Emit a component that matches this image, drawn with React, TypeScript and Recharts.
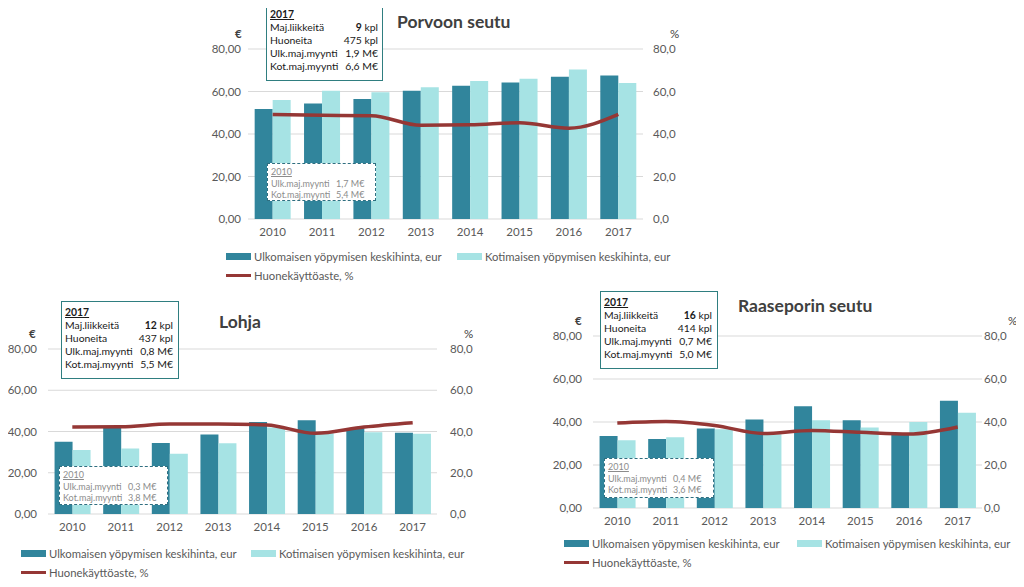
import { Bar, CartesianGrid, ComposedChart, Line, XAxis, YAxis } from 'recharts';

const years = ['2010', '2011', '2012', '2013', '2014', '2015', '2016', '2017'];

const porvooForeign = [51.8, 54.3, 56.5, 60.4, 62.7, 64.2, 67.0, 67.5];
const porvooDomestic = [56.0, 60.4, 59.6, 62.0, 64.9, 66.0, 70.4, 64.0];
const porvooOccupancy = [49.2, 48.8, 48.6, 44.1, 44.3, 45.3, 42.7, 49.2];

const lohjaForeign = [35.0, 42.0, 34.4, 38.6, 44.6, 45.4, 41.6, 39.4];
const lohjaDomestic = [31.0, 31.7, 29.2, 34.3, 42.0, 39.1, 39.6, 38.9];
const lohjaOccupancy = [42.2, 42.3, 43.6, 43.6, 43.2, 39.1, 42.2, 44.3];

const raaseporiForeign = [33.5, 32.1, 37.0, 41.2, 47.3, 40.8, 34.0, 49.9];
const raaseporiDomestic = [31.5, 32.9, 36.6, 34.3, 40.8, 37.4, 40.0, 44.3];
const raaseporiOccupancy = [39.5, 40.2, 38.4, 34.7, 36.1, 35.2, 34.4, 37.7];

const yTicks = [0, 20, 40, 60, 80];

const statLabels2017 = ['Maj.liikkeitä', 'Huoneita', 'Ulk.maj.myynti', 'Kot.maj.myynti'];
const statUnits2017 = ['kpl', 'kpl', 'M€', 'M€'];
const statLabels2010 = ['Ulk.maj.myynti', 'Kot.maj.myynti'];

const porvooStats2017 = ['9', '475', '1,9', '6,6'];
const porvooStats2010 = ['1,7', '5,4'];
const lohjaStats2017 = ['12', '437', '0,8', '5,5'];
const lohjaStats2010 = ['0,3', '3,8'];
const raaseporiStats2017 = ['16', '414', '0,7', '5,0'];
const raaseporiStats2010 = ['0,4', '3,6'];

const seriesNames = [
  'Ulkomaisen yöpymisen keskihinta, eur',
  'Kotimaisen yöpymisen keskihinta, eur',
  'Huonekäyttöaste, %',
];

const DARK = '#31859c';
const LIGHT = '#a6e3e4';
const LINE = '#953735';
const TEXT = '#595959';
const FONT = 'Lato, "Open Sans", sans-serif';

function buildRows(foreign: number[], domestic: number[], occupancy: number[]) {
  return years.map((year, i) => ({
    year,
    foreign: foreign[i],
    domestic: domestic[i],
    occupancy: occupancy[i],
  }));
}

type Rect = { x: number; y: number; w: number; h: number };

type PanelProps = {
  title: string;
  rows: ReturnType<typeof buildRows>;
  stats2017: string[];
  stats2010: string[];
  plotX: number;
  plotY: number;
  plotW: number;
  plotH: number;
  leftW: number;
  rightW: number;
  leftGap: number;
  rightGap: number;
  euroX: number;
  pctX: number;
  titleX: number;
  titleY: number;
  box17: Rect;
  box10: Rect;
  legendDy: number;
  legendX: number;
  legend2X: number;
};

function LegendItem({ color, label, line }: { color: string; label: string; line?: boolean }) {
  return (
    <div style={{ display: 'flex', alignItems: 'center', height: 19 }}>
      <span
        style={{ display: 'inline-block', width: 25, height: line ? 3.5 : 7, background: color, marginRight: 3 }}
      />
      <span>{label}</span>
    </div>
  );
}

function Panel(p: PanelProps) {
  const top = 10;
  const axisH = 26;
  const legendStyle = {
    position: 'absolute' as const,
    top: p.plotY + p.plotH + p.legendDy,
    fontSize: 11.3,
    color: TEXT,
    whiteSpace: 'nowrap' as const,
  };
  return (
    <>
      <div style={{ position: 'absolute', left: p.plotX - p.leftW, top: p.plotY - top }}>
        <ComposedChart
          width={p.leftW + p.plotW + p.rightW}
          height={top + p.plotH + axisH}
          data={p.rows}
          margin={{ top, right: 0, bottom: 0, left: 0 }}
          barCategoryGap="13.5%"
          barGap={0}
          style={{ fontFamily: FONT }}
        >
          <CartesianGrid vertical={false} stroke="#d9d9d9" yAxisId="left" />
          <XAxis
            dataKey="year"
            axisLine={false}
            tickLine={false}
            tickSize={0}
            tickMargin={9}
            height={axisH}
            tick={{ fill: TEXT, fontSize: 11.5 }}
          />
          <YAxis
            yAxisId="left"
            domain={[0, 80]}
            ticks={yTicks}
            width={p.leftW}
            axisLine={false}
            tickLine={false}
            tickSize={0}
            tickMargin={p.leftGap}
            tick={{ fill: TEXT, fontSize: 11.5 }}
            tickFormatter={(v: number) => v.toFixed(2).replace('.', ',')}
          />
          <YAxis
            yAxisId="right"
            orientation="right"
            domain={[0, 80]}
            ticks={yTicks}
            width={p.rightW}
            axisLine={false}
            tickLine={false}
            tickSize={0}
            tickMargin={p.rightGap}
            tick={{ fill: TEXT, fontSize: 11.5 }}
            tickFormatter={(v: number) => v.toFixed(1).replace('.', ',')}
          />
          <Bar yAxisId="left" dataKey="foreign" fill={DARK} isAnimationActive={false} />
          <Bar yAxisId="left" dataKey="domestic" fill={LIGHT} isAnimationActive={false} />
          <Line
            yAxisId="right"
            type="monotone"
            dataKey="occupancy"
            stroke={LINE}
            strokeWidth={3.5}
            dot={false}
            isAnimationActive={false}
          />
        </ComposedChart>
      </div>

      <div style={{ position: 'absolute', left: p.euroX, top: p.plotY - 22, fontSize: 11.5, color: '#404040', fontWeight: 700 }}>€</div>
      <div style={{ position: 'absolute', left: p.pctX, top: p.plotY - 22, fontSize: 11.5, color: '#404040' }}>%</div>

      <div
        style={{
          position: 'absolute',
          left: p.titleX,
          top: p.titleY,
          fontSize: 17.5,
          fontWeight: 700,
          color: '#404040',
          whiteSpace: 'nowrap',
        }}
      >
        {p.title}
      </div>

      <div
        style={{
          position: 'absolute',
          left: p.box17.x,
          top: p.box17.y,
          width: p.box17.w,
          height: p.box17.h,
          border: '1.5px solid #2f7e80',
          background: '#fff',
          boxSizing: 'border-box',
          padding: '4px 0 0 3px',
          fontSize: 10.4,
          lineHeight: '13px',
          color: '#1a1a1a',
        }}
      >
        <div style={{ fontWeight: 700, textDecoration: 'underline' }}>2017</div>
        {statLabels2017.map((label, i) => (
          <div key={label} style={{ display: 'flex', whiteSpace: 'nowrap' }}>
            <span style={{ width: 72 }}>{label}</span>
            <span style={{ width: 36, textAlign: 'right' }}>
              <span style={{ fontWeight: i === 0 ? 700 : 400 }}>{p.stats2017[i]}</span> {statUnits2017[i]}
            </span>
          </div>
        ))}
      </div>

      <div
        style={{
          position: 'absolute',
          left: p.box10.x,
          top: p.box10.y,
          width: p.box10.w,
          height: p.box10.h,
          border: '1.5px dashed #2f6f80',
          background: '#fff',
          boxSizing: 'border-box',
          padding: '2px 0 0 3px',
          fontSize: 9,
          lineHeight: '11.5px',
          color: '#8c8c8c',
        }}
      >
        <div style={{ textDecoration: 'underline' }}>2010</div>
        {statLabels2010.map((label, i) => (
          <div key={label} style={{ display: 'flex', whiteSpace: 'nowrap' }}>
            <span style={{ width: 65 }}>{label}</span>
            <span>{p.stats2010[i]} M€</span>
          </div>
        ))}
      </div>

      <div style={{ ...legendStyle, left: p.legendX }}>
        <LegendItem color={DARK} label={seriesNames[0]} />
        <LegendItem color={LINE} label={seriesNames[2]} line />
      </div>
      <div style={{ ...legendStyle, left: p.legend2X }}>
        <LegendItem color={LIGHT} label={seriesNames[1]} />
      </div>
    </>
  );
}

export default function App() {
  return (
    <div style={{ position: 'relative', width: 1024, height: 587, margin: -8, background: '#fff', overflow: 'hidden', fontFamily: FONT }}>
      <Panel
        title="Porvoon seutu"
        rows={buildRows(porvooForeign, porvooDomestic, porvooOccupancy)}
        stats2017={porvooStats2017}
        stats2010={porvooStats2010}
        plotX={248}
        plotY={49}
        plotW={395}
        plotH={170}
        leftW={48}
        rightW={47}
        leftGap={7}
        rightGap={10}
        euroX={235}
        pctX={670}
        titleX={397}
        titleY={11}
        box17={{ x: 266, y: 3, w: 117, h: 78 }}
        box10={{ x: 267, y: 163, w: 109, h: 38 }}
        legendDy={28}
        legendX={226}
        legend2X={457}
      />
      <Panel
        title="Lohja"
        rows={buildRows(lohjaForeign, lohjaDomestic, lohjaOccupancy)}
        stats2017={lohjaStats2017}
        stats2010={lohjaStats2010}
        plotX={48}
        plotY={349}
        plotW={389}
        plotH={165}
        leftW={48}
        rightW={40}
        leftGap={11}
        rightGap={13}
        euroX={29}
        pctX={464}
        titleX={219}
        titleY={311}
        box17={{ x: 61, y: 301, w: 118, h: 78 }}
        box10={{ x: 59, y: 466, w: 109, h: 39 }}
        legendDy={30}
        legendX={21}
        legend2X={251}
      />
      <Panel
        title="Raaseporin seutu"
        rows={buildRows(raaseporiForeign, raaseporiDomestic, raaseporiOccupancy)}
        stats2017={raaseporiStats2017}
        stats2010={raaseporiStats2010}
        plotX={593}
        plotY={336}
        plotW={389}
        plotH={172}
        leftW={48}
        rightW={42}
        leftGap={11}
        rightGap={2}
        euroX={575}
        pctX={1008}
        titleX={738}
        titleY={295}
        box17={{ x: 600, y: 291, w: 118, h: 78 }}
        box10={{ x: 604, y: 458, w: 110, h: 40 }}
        legendDy={26}
        legendX={564}
        legend2X={797}
      />
    </div>
  );
}
